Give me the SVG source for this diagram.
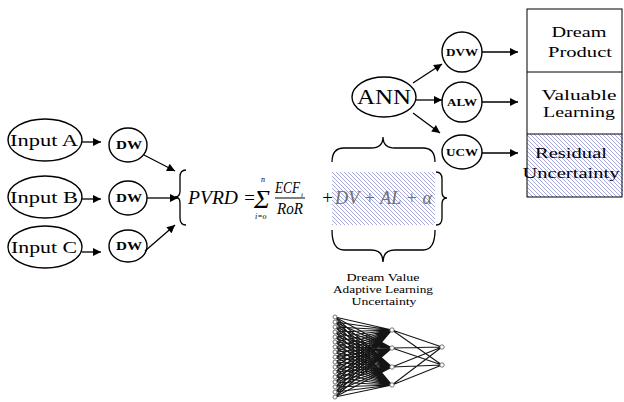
<svg xmlns="http://www.w3.org/2000/svg" width="624" height="402" viewBox="0 0 624 402">
<style>
.n{fill:#fff;stroke:#000;stroke-width:1.4}
.t{font-family:"Liberation Serif",serif;fill:#000;text-anchor:middle}
.b{font-weight:bold}
.c{stroke:#000;stroke-width:1.3;fill:none}
.br{stroke:#000;stroke-width:1.3;fill:none}
.f{font-family:"Liberation Serif",serif;font-style:italic;fill:#000}
.nn{stroke:#151515;stroke-width:1.05;fill:none;stroke-linejoin:round}
.nd{fill:#fff;stroke:#555;stroke-width:0.8}
</style>
<defs>
<marker id="ah" markerUnits="userSpaceOnUse" markerWidth="9" markerHeight="8" viewBox="0 0 10 10" refX="10" refY="5" orient="auto">
<path d="M0,0 L10,5 L0,10 z" fill="#000"/>
</marker>
<pattern id="hatch" patternUnits="userSpaceOnUse" width="4" height="4">
<path d="M-1,-1 L5,5 M-1,3 L1,5 M3,-1 L5,1" stroke="#8b8ed0" stroke-width="0.75"/>
</pattern>
</defs>
<rect width="624" height="402" fill="#fff"/>

<g id="inputA"><ellipse class="n" cx="45" cy="140" rx="37" ry="21"/><text class="t" x="44" y="146" font-size="16" textLength="68" lengthAdjust="spacingAndGlyphs">Input A</text></g>
<g id="inputB"><ellipse class="n" cx="45" cy="197" rx="37" ry="21"/><text class="t" x="44" y="203" font-size="16" textLength="68" lengthAdjust="spacingAndGlyphs">Input B</text></g>
<g id="inputC"><ellipse class="n" cx="45" cy="247" rx="37" ry="21"/><text class="t" x="44" y="253" font-size="16" textLength="66" lengthAdjust="spacingAndGlyphs">Input C</text></g>

<g id="dw1"><ellipse class="n" cx="128" cy="145" rx="19" ry="17"/><text class="t b" x="129" y="149" font-size="12" textLength="26" lengthAdjust="spacingAndGlyphs">DW</text></g>
<g id="dw2"><ellipse class="n" cx="128" cy="198" rx="19" ry="17"/><text class="t b" x="129" y="202" font-size="12" textLength="26" lengthAdjust="spacingAndGlyphs">DW</text></g>
<g id="dw3"><ellipse class="n" cx="128" cy="246" rx="19" ry="16"/><text class="t b" x="129" y="250" font-size="12" textLength="26" lengthAdjust="spacingAndGlyphs">DW</text></g>

<g id="formula">
<path class="br" d="M186,170 Q180,170 180,177 L180,191 Q180,197 175,197 Q180,197 180,203 L180,218 Q180,225 186,225"/>
<text class="f" x="188" y="204" font-size="19" textLength="50" lengthAdjust="spacingAndGlyphs">PVRD</text>
<text class="f" x="243" y="204" font-size="19" font-style="normal">=</text>
<text class="f" x="254" y="208" font-size="26" font-style="normal" textLength="16" lengthAdjust="spacingAndGlyphs">Σ</text>
<text class="f" x="261" y="182" font-size="8">n</text>
<text class="f" x="255" y="219" font-size="8">i=o</text>
<text class="f" x="275" y="193" font-size="17" textLength="25" lengthAdjust="spacingAndGlyphs">ECF</text>
<text class="f" x="301" y="197" font-size="7">i</text>
<line x1="275" y1="198" x2="305" y2="198" stroke="#000" stroke-width="1"/>
<text class="f" x="277" y="214" font-size="17" textLength="26" lengthAdjust="spacingAndGlyphs">RoR</text>
<text class="f" x="321" y="204" font-size="19" font-style="normal">+</text>
<rect x="332" y="172" width="103" height="53" fill="url(#hatch)"/>
<text class="f" x="335" y="204" font-size="18" style="fill:#707070" textLength="97" lengthAdjust="spacingAndGlyphs">DV + AL + α</text>
<path class="br" d="M436,172 Q442,172 442,179 L442,192 Q442,198 447,198 Q442,198 442,204 L442,218 Q442,225 436,225"/>
<path class="br" d="M332,162 Q332,148 344,148 L371,148 Q383,148 383,137 Q383,148 395,148 L423,148 Q435,148 435,162"/>
<path class="br" d="M332,230 Q332,250 344,250 L371,250 Q383,250 383,262 Q383,250 395,250 L423,250 Q435,250 435,230"/>
</g>

<g id="caption">
<text class="t" x="383" y="281" font-size="11" textLength="73" lengthAdjust="spacingAndGlyphs">Dream Value</text>
<text class="t" x="383" y="293" font-size="11" textLength="100" lengthAdjust="spacingAndGlyphs">Adaptive Learning</text>
<text class="t" x="384" y="305" font-size="11" textLength="65" lengthAdjust="spacingAndGlyphs">Uncertainty</text>
</g>

<g id="ann"><ellipse class="n" cx="384" cy="97" rx="32" ry="20"/><text class="t" x="384" y="104" font-size="21" textLength="54" lengthAdjust="spacingAndGlyphs">ANN</text></g>
<g id="dvw"><circle class="n" cx="462" cy="52" r="20"/><text class="t b" x="462" y="56" font-size="11" textLength="32" lengthAdjust="spacingAndGlyphs">DVW</text></g>
<g id="alw"><circle class="n" cx="462" cy="102" r="20"/><text class="t b" x="462" y="106" font-size="11" textLength="30" lengthAdjust="spacingAndGlyphs">ALW</text></g>
<g id="ucw"><ellipse class="n" cx="462" cy="152" rx="20" ry="17"/><text class="t b" x="462" y="156" font-size="11" textLength="32" lengthAdjust="spacingAndGlyphs">UCW</text></g>

<g id="table">
<rect x="527" y="134" width="96" height="63" fill="url(#hatch)"/>
<rect x="527" y="9" width="95" height="188" fill="none" stroke="#000" stroke-width="1"/>
<line x1="527" y1="72" x2="622" y2="72" stroke="#000" stroke-width="1"/>
<line x1="527" y1="134" x2="622" y2="134" stroke="#000" stroke-width="1"/>
<text class="t" x="579" y="37" font-size="15" textLength="55" lengthAdjust="spacingAndGlyphs">Dream</text>
<text class="t" x="580" y="57" font-size="15" textLength="64" lengthAdjust="spacingAndGlyphs">Product</text>
<text class="t" x="579" y="100" font-size="15" textLength="75" lengthAdjust="spacingAndGlyphs">Valuable</text>
<text class="t" x="579" y="117" font-size="15" textLength="72" lengthAdjust="spacingAndGlyphs">Learning</text>
<text class="t" x="571" y="158" font-size="15" textLength="72" lengthAdjust="spacingAndGlyphs">Residual</text>
<text class="t" x="571" y="178" font-size="15" textLength="97" lengthAdjust="spacingAndGlyphs">Uncertainty</text>
</g>

<g id="network">
<polyline class="nn" points="392,330 335,317 392,330 335,322 392,330 335,327 392,330 335,332 392,330 335,337 392,330 335,342 392,330 335,347 392,330 335,352 392,330 335,357 392,330 335,362 392,330 335,367 392,330 335,372 392,330 335,377 392,330 335,382 392,330 335,387 392,330 335,392 392,330 335,397 392,330"/>
<polyline class="nn" points="392,348 335,317 392,348 335,322 392,348 335,327 392,348 335,332 392,348 335,337 392,348 335,342 392,348 335,347 392,348 335,352 392,348 335,357 392,348 335,362 392,348 335,367 392,348 335,372 392,348 335,377 392,348 335,382 392,348 335,387 392,348 335,392 392,348 335,397 392,348"/>
<polyline class="nn" points="392,367 335,317 392,367 335,322 392,367 335,327 392,367 335,332 392,367 335,337 392,367 335,342 392,367 335,347 392,367 335,352 392,367 335,357 392,367 335,362 392,367 335,367 392,367 335,372 392,367 335,377 392,367 335,382 392,367 335,387 392,367 335,392 392,367 335,397 392,367"/>
<polyline class="nn" points="392,385 335,317 392,385 335,322 392,385 335,327 392,385 335,332 392,385 335,337 392,385 335,342 392,385 335,347 392,385 335,352 392,385 335,357 392,385 335,362 392,385 335,367 392,385 335,372 392,385 335,377 392,385 335,382 392,385 335,387 392,385 335,392 392,385 335,397 392,385"/>
<path class="nn" stroke-width="1.4" d="M392,330 L442,347 M392,330 L442,365 M392,348 L442,347 M392,348 L442,365 M392,367 L442,347 M392,367 L442,365 M392,385 L442,347 M392,385 L442,365"/>
<g class="nd">
<circle cx="335" cy="317" r="2"/><circle cx="335" cy="322" r="2"/><circle cx="335" cy="327" r="2"/><circle cx="335" cy="332" r="2"/><circle cx="335" cy="337" r="2"/><circle cx="335" cy="342" r="2"/><circle cx="335" cy="347" r="2"/><circle cx="335" cy="352" r="2"/><circle cx="335" cy="357" r="2"/><circle cx="335" cy="362" r="2"/><circle cx="335" cy="367" r="2"/><circle cx="335" cy="372" r="2"/><circle cx="335" cy="377" r="2"/><circle cx="335" cy="382" r="2"/><circle cx="335" cy="387" r="2"/><circle cx="335" cy="392" r="2"/><circle cx="335" cy="397" r="2"/>
<circle cx="392" cy="330" r="2.2"/><circle cx="392" cy="348" r="2.2"/><circle cx="392" cy="367" r="2.2"/><circle cx="392" cy="385" r="2.2"/>
<circle cx="442" cy="347" r="2.2"/><circle cx="442" cy="365" r="2.2"/>
</g>
</g>

<g id="connectors">
<line class="c" x1="82" y1="142" x2="101" y2="142" marker-end="url(#ah)"/>
<line class="c" x1="82" y1="199" x2="101" y2="199" marker-end="url(#ah)"/>
<line class="c" x1="82" y1="252" x2="101" y2="252" marker-end="url(#ah)"/>
<line class="c" x1="144" y1="155" x2="175" y2="171" marker-end="url(#ah)"/>
<line class="c" x1="147" y1="198" x2="178" y2="198" marker-end="url(#ah)"/>
<line class="c" x1="145" y1="251" x2="175" y2="225" marker-end="url(#ah)"/>
<line class="c" x1="413" y1="83" x2="442" y2="64" marker-end="url(#ah)"/>
<line class="c" x1="416" y1="100" x2="442" y2="100" marker-end="url(#ah)"/>
<line class="c" x1="413" y1="113" x2="440" y2="133" marker-end="url(#ah)"/>
<line class="c" x1="482" y1="52" x2="518" y2="52" marker-end="url(#ah)"/>
<line class="c" x1="482" y1="102" x2="518" y2="102" marker-end="url(#ah)"/>
<line class="c" x1="482" y1="153" x2="518" y2="153" marker-end="url(#ah)"/>
</g>
</svg>
